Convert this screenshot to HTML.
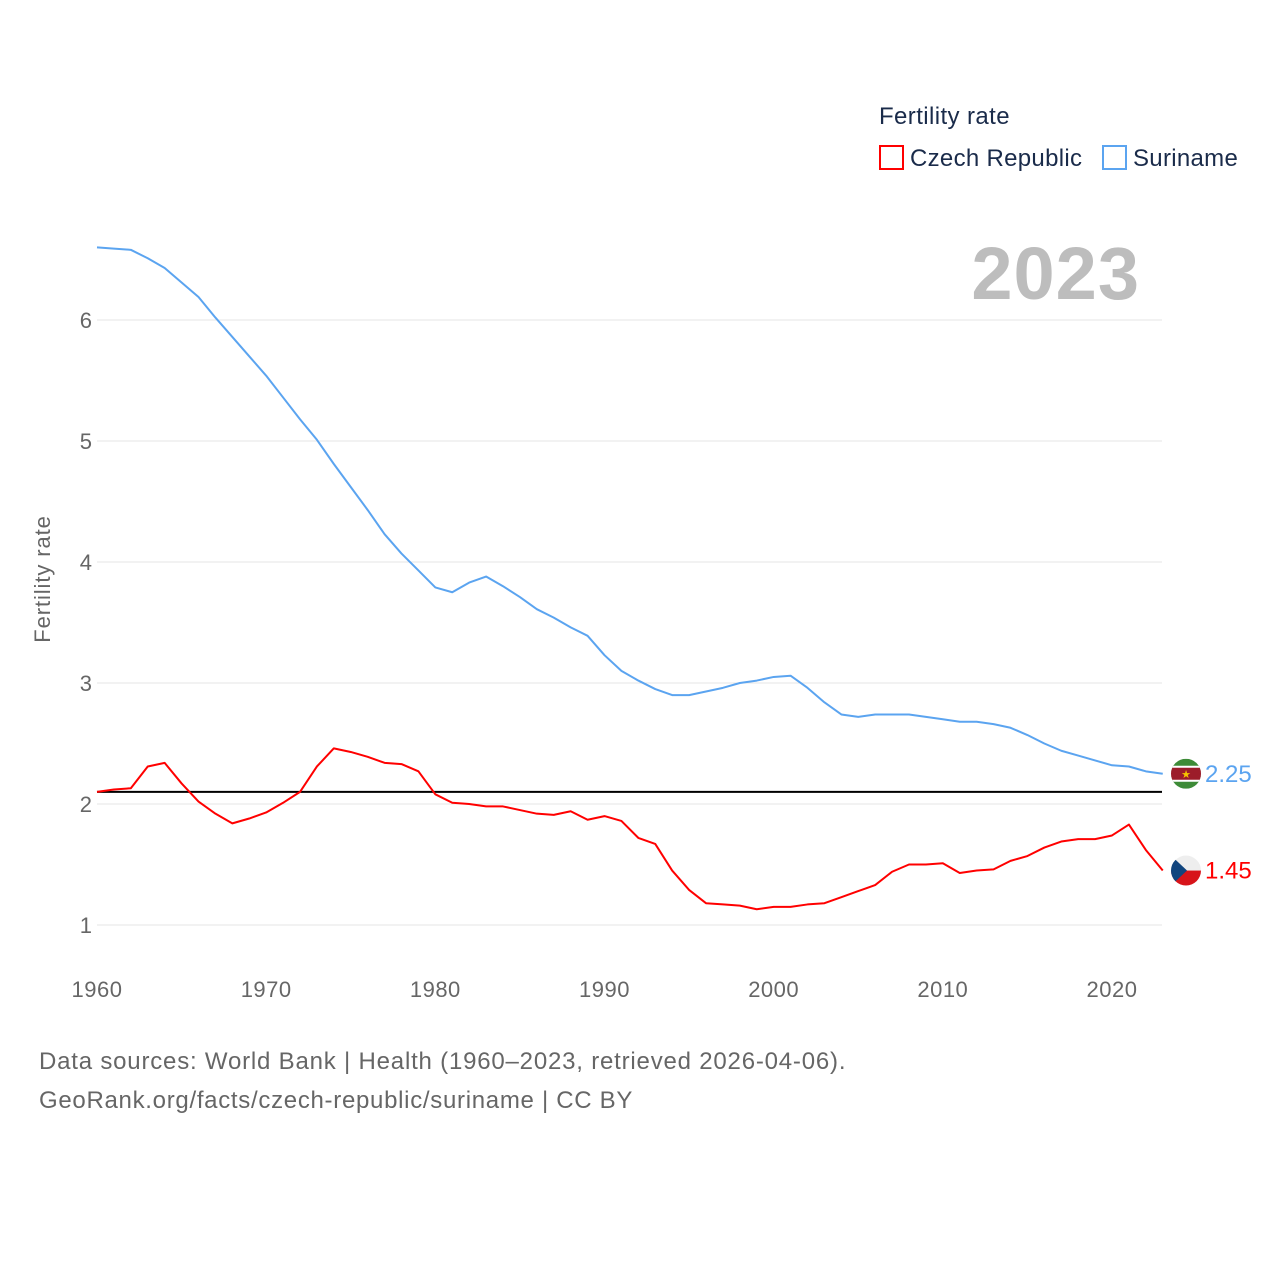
<!DOCTYPE html>
<html><head><meta charset="utf-8"><style>
body{margin:0;background:#fff;font-family:"Liberation Sans",sans-serif;}
svg text{font-family:"Liberation Sans",sans-serif;}
</style></head><body>
<svg id="chart" width="1280" height="1280" viewBox="0 0 1280 1280" xmlns="http://www.w3.org/2000/svg">
<g id="grid"></g>
<g id="yticks"></g>
<g id="xticks"></g>
<text transform="translate(50,579) rotate(-90)" text-anchor="middle" font-size="22" letter-spacing="0.9" fill="#666">Fertility rate</text>
<text x="1140" y="299" text-anchor="end" font-size="74" font-weight="bold" letter-spacing="1" fill="#bdbdbd">2023</text>
<g>
<text x="879" y="124" font-size="24" letter-spacing="0.4" fill="#1a2b4a">Fertility rate</text>
<g><rect x="880" y="146" width="23" height="23" fill="none" stroke="#f00" stroke-width="2"/><text x="910" y="166" font-size="24" letter-spacing="0.3" fill="#1a2b4a">Czech Republic</text></g>
<g><rect x="1103" y="146" width="23" height="23" fill="none" stroke="#5ba4f0" stroke-width="2"/><text x="1133" y="166" font-size="24" letter-spacing="0.3" fill="#1a2b4a">Suriname</text></g>
</g>
<g id="series"></g>
<text x="39" y="1069" font-size="24" letter-spacing="0.8" fill="#666">Data sources: World Bank | Health (1960–2023, retrieved 2026-04-06).</text>
<text x="39" y="1108" font-size="24" letter-spacing="0.7" fill="#666">GeoRank.org/facts/czech-republic/suriname | CC BY</text>
</svg>
<script>
const years=[];for(let y=1960;y<=2023;y++)years.push(y);
const suriname=[6.6,6.59,6.58,6.51,6.43,6.31,6.19,6.02,5.86,5.70,5.54,5.36,5.18,5.01,4.81,4.62,4.43,4.23,4.07,3.93,3.79,3.75,3.83,3.88,3.80,3.71,3.61,3.54,3.46,3.39,3.23,3.10,3.02,2.95,2.90,2.90,2.93,2.96,3.00,3.02,3.05,3.06,2.96,2.84,2.74,2.72,2.74,2.74,2.74,2.72,2.70,2.68,2.68,2.66,2.63,2.57,2.50,2.44,2.40,2.36,2.32,2.31,2.27,2.25];
const czech=[2.10,2.12,2.13,2.31,2.34,2.17,2.02,1.92,1.84,1.88,1.93,2.01,2.10,2.31,2.46,2.43,2.39,2.34,2.33,2.27,2.08,2.01,2.00,1.98,1.98,1.95,1.92,1.91,1.94,1.87,1.90,1.86,1.72,1.67,1.45,1.29,1.18,1.17,1.16,1.13,1.15,1.15,1.17,1.18,1.23,1.28,1.33,1.44,1.50,1.50,1.51,1.43,1.45,1.46,1.53,1.57,1.64,1.69,1.71,1.71,1.74,1.83,1.62,1.45];
const yTicks=[1,2,3,4,5,6];
const xTicks=[1960,1970,1980,1990,2000,2010,2020];
const replacement=2.1;
const NS="http://www.w3.org/2000/svg";
const X=y=>97+(y-1960)*(1015/60);
const Y=v=>925-(v-1)*121;
function mk(tag,attrs,parent,text){const e=document.createElementNS(NS,tag);for(const k in attrs)e.setAttribute(k,attrs[k]);if(text!=null)e.textContent=text;parent.appendChild(e);return e;}
const grid=document.getElementById('grid'),yt=document.getElementById('yticks'),xt=document.getElementById('xticks'),ser=document.getElementById('series');
yTicks.forEach(v=>{
 const l=mk('line',{x1:97,x2:1162,y1:Y(v),y2:Y(v),stroke:'#e6e6e6','stroke-width':1},grid);
 
 
 const t=mk('text',{x:92,y:Y(v)+8,'text-anchor':'end','font-size':22,fill:'#666'},yt,String(v));
 
 
});
xTicks.forEach(v=>{
 const t=mk('text',{x:X(v),y:997,'text-anchor':'middle','font-size':22,'letter-spacing':0.5,fill:'#666'},xt,String(v));
 
 
});
const ref=mk('line',{x1:97,x2:1162,y1:Y(replacement),y2:Y(replacement),stroke:'#000','stroke-width':2},ser);


function line(data,color,name){
 const p=mk('polyline',{points:data.map((v,i)=>X(years[i])+','+Y(v)).join(' '),fill:'none',stroke:color,'stroke-width':2,'stroke-linejoin':'round'},ser);
 
 
}
line(suriname,'#5ba4f0','suriname-line');
line(czech,'#f00','czech-line');
const last=years.length-1;
const sy=Y(suriname[last]),cy=Y(czech[last]),fx=1186;
const sf=mk('g',{},ser);


mk('clipPath',{id:'c1'},sf);mk('circle',{cx:fx,cy:sy,r:15},document.getElementById('c1'));
const g1=mk('g',{'clip-path':'url(#c1)'},sf);
mk('rect',{x:fx-15,y:sy-15,width:30,height:30,fill:'#3d8b37'},g1);
mk('rect',{x:fx-15,y:sy-8,width:30,height:16,fill:'#fff'},g1);
mk('rect',{x:fx-15,y:sy-6,width:30,height:12,fill:'#9c1c2a'},g1);
mk('text',{x:fx,y:sy+4,'text-anchor':'middle','font-size':11,fill:'#f6c500'},g1,'★');
const st=mk('text',{x:1205,y:sy+8,'font-size':24,fill:'#5ba4f0'},ser,suriname[last].toFixed(2));


const cf=mk('g',{},ser);


mk('clipPath',{id:'c2'},cf);mk('circle',{cx:fx,cy:cy,r:15},document.getElementById('c2'));
const g2=mk('g',{'clip-path':'url(#c2)'},cf);
mk('rect',{x:fx-15,y:cy-15,width:30,height:15,fill:'#eee'},g2);
mk('rect',{x:fx-15,y:cy,width:30,height:15,fill:'#d7141a'},g2);
mk('polygon',{points:`${fx-15},${cy-15} ${fx+1},${cy} ${fx-15},${cy+15}`,fill:'#11457e'},g2);
const ct=mk('text',{x:1205,y:cy+8,'font-size':24,fill:'#f00'},ser,czech[last].toFixed(2));


</script>
</body></html>
